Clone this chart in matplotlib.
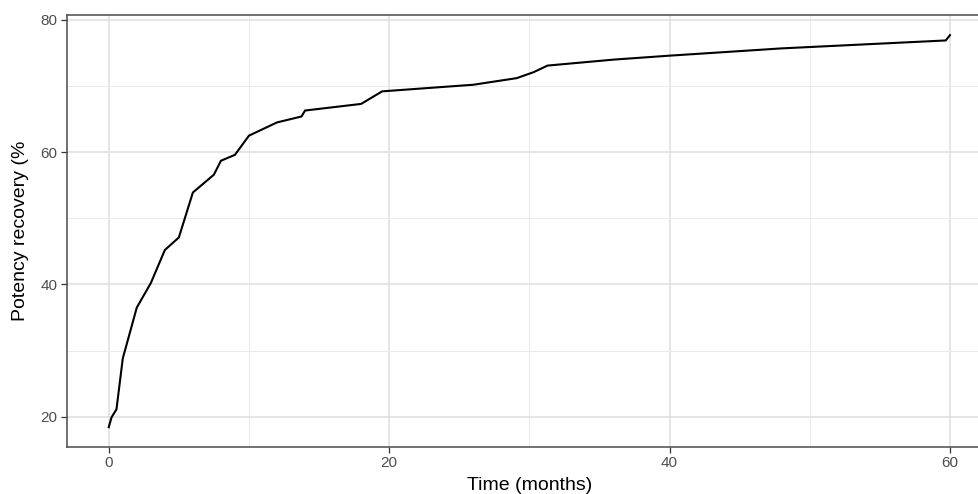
import numpy as np
import matplotlib
matplotlib.use("Agg")
import matplotlib.pyplot as plt
from matplotlib.ticker import MultipleLocator

plt.rcParams["font.family"] = ["Liberation Sans", "DejaVu Sans"]

# values
time_months = [0, 0.2, 0.55, 1.0, 2.0, 3.0, 4.0, 5.0, 6.0, 7.5, 8.0, 9.0, 10.0,
               12.0, 13.75, 14.0, 18.0, 19.5, 26.0, 29.1, 30.3, 31.3, 36.0,
               40.0, 48.0, 59.7, 60.0]
recovery_pct = [18.4, 19.9, 21.1, 28.8, 36.5, 40.2, 45.2, 47.1, 53.9, 56.6,
                58.7, 59.6, 62.5, 64.5, 65.4, 66.3, 67.3, 69.2, 70.2, 71.2,
                72.1, 73.1, 74.0, 74.6, 75.7, 76.9, 77.7]

W, H = 979, 494
fig = plt.figure(figsize=(W / 100, H / 100), dpi=100)

# panel runs past the right edge, like the cropped original
left, right, top, bottom = 66.7, 992.0, 15.0, 446.7
ax = fig.add_axes([left / W, 1 - bottom / H, (right - left) / W, (bottom - top) / H])

ax.plot(time_months, recovery_pct, color="black", linewidth=1.5,
        solid_joinstyle="miter", zorder=3)

ax.set_xlim(-3, 63)
ax.set_ylim(15.45, 80.75)

ax.xaxis.set_major_locator(MultipleLocator(20))
ax.xaxis.set_minor_locator(MultipleLocator(10))
ax.yaxis.set_major_locator(MultipleLocator(20))
ax.yaxis.set_minor_locator(MultipleLocator(10))

ax.grid(which="major", color="#e0e0e0", linewidth=1.2, zorder=0)
ax.grid(which="minor", color="#eaeaea", linewidth=0.7, zorder=0)
ax.set_axisbelow(True)

for s in ax.spines.values():
    s.set_color("#4a4a4a")
    s.set_linewidth(1.1)

ax.tick_params(which="major", length=4, width=0.9, color="#333333",
               labelsize=11, labelcolor="#4d4d4d", pad=2.5)
ax.tick_params(which="minor", length=0)

ax.set_xlabel("Time (months)", fontsize=14, color="black")
ax.set_ylabel("Potency recovery (%", fontsize=14, color="black")
ax.xaxis.set_label_coords(0.5, (17 - (H - bottom)) / (bottom - top))
ax.yaxis.set_label_coords((29 - left) / (right - left), 0.5)
ax.xaxis.label.set_va("top")

fig.savefig("out.png", dpi=100)
